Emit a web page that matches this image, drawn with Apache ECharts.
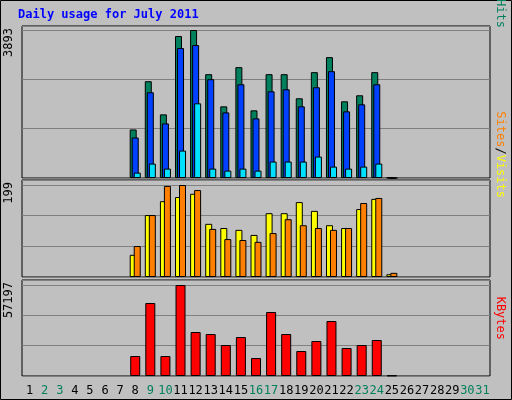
<!DOCTYPE html>
<html><head><meta charset="utf-8">
<script src="https://cdn.jsdelivr.net/npm/echarts@6/dist/echarts.min.js"></script>
<style>html,body{margin:0;padding:0;background:#c0c0c0}#c{width:512px;height:400px}</style>
</head><body><div id="c"></div>
<script>
const days = Array.from({length:31},(_,i)=>String(i+1));
const weekend = ['2','3','9','10','16','17','23','24','30','31'];
const N = null;
const hits  = [N,N,N,N,N,N,N,1277,2546,1674,3735,3893,2731,1885,2916,1780,2731,2731,2097,2784,3180,2017,2176,2784,12,N,N,N,N,N,N];
const files = [N,N,N,N,N,N,N,1066,2255,1436,3418,3497,2599,1726,2466,1568,2281,2334,1885,2387,2810,1753,1938,2466,0,N,N,N,N,N,N];
const pages = [N,N,N,N,N,N,N,141,379,247,722,1964,247,194,247,194,432,432,432,564,300,247,300,379,0,N,N,N,N,N,N];
const visits= [N,N,N,N,N,N,N,48,134,164,173,180,115,106,102,91,138,138,162,143,112,106,147,169,6,N,N,N,N,N,N];
const sites = [N,N,N,N,N,N,N,67,134,197,199,188,104,82,80,76,95,125,112,106,102,106,160,171,9,N,N,N,N,N,N];
const kbytes= [N,N,N,N,N,N,N,12570,45880,12570,57197,27654,26397,19484,24512,11313,40224,26397,15713,21998,34568,17598,19484,22626,300,N,N,N,N,N,N];
const maxLabels = ['3893','199','57197'];

const grids = [
  {left:22,right:22,top:26,height:152},
  {left:22,right:22,top:180,height:97},
  {left:22,right:22,top:280,height:96}
].map(g=>Object.assign(g,{show:true,borderColor:'#000',borderWidth:1,backgroundColor:'#c0c0c0'}));
const maxes=[3893,199,57197];
const scale=[152/148,97/92,96/91];
const xAxes=[0,1,2].map(i=>({type:'category',gridIndex:i,data:days,
  axisLine:{show:false},axisTick:{show:false},
  axisLabel:i===2?{show:true,interval:0,fontFamily:'DejaVu Sans Mono',fontSize:12,margin:9,
    color:(v)=>weekend.includes(v)?'#00805c':'#000'}:{show:false}}));
const yAxes=[0,1,2].map(i=>({type:'value',gridIndex:i,min:0,max:maxes[i]*scale[i],interval:maxes[i]/3,
  axisLabel:{show:false},axisLine:{show:false},axisTick:{show:false},
  splitLine:{show:true,lineStyle:{color:'#808080',width:1}}}));
const bs=(name,data,color,xi,w,gap)=>({type:'bar',name,data,xAxisIndex:xi,yAxisIndex:xi,barWidth:w,barGap:gap,
  itemStyle:{color,borderColor:'#000',borderWidth:1},silent:true,animation:false});
const vt=(text,x,y,color)=>({type:'text',x,y,rotation:Math.PI/2,style:{text,fill:color,font:'12px "DejaVu Sans Mono"',textAlign:'right',textVerticalAlign:'middle'}});
const chart=echarts.init(document.getElementById('c'));
chart.setOption({
  backgroundColor:'#c0c0c0',animation:false,
  grid:grids,xAxis:xAxes,yAxis:yAxes,
  series:[
    bs('Hits',hits,'#00805c',0,7,'-71%'),
    bs('Files',files,'#0040ff',0,7,'-71%'),
    bs('Pages',pages,'#00e0ff',0,7,'-71%'),
    bs('Visits',visits,'#ffff00',1,7,'-43%'),
    bs('Sites',sites,'#ff8000',1,7,'-43%'),
    bs('KBytes',kbytes,'#ff0000',2,10,'0%')
  ],
  graphic:[
    {type:'rect',shape:{x:0.5,y:0.5,width:511,height:399},style:{fill:'none',stroke:'#000'}},
    {type:'text',x:18,y:9,style:{text:'Daily usage for July 2011',fill:'#0000ff',font:'bold 12px "DejaVu Sans Mono"'}},
    vt(maxLabels[0],9,28,'#000'),
    vt(maxLabels[1],9,182,'#000'),
    vt(maxLabels[2],9,282,'#000'),
    {type:'text',x:500,y:28,rotation:-Math.PI/2,style:{rich:{h:{fill:'#00805c'},f:{fill:'#0040ff'},p:{fill:'#00e0ff'},s:{fill:'#000'}},text:'{p|Pages}{s|/}{f|Files}{s|/}{h|Hits}',font:'12px "DejaVu Sans Mono"',textAlign:'right',textVerticalAlign:'middle'}},
    {type:'text',x:500,y:198,rotation:-Math.PI/2,style:{rich:{a:{fill:'#ff8000'},b:{fill:'#ffff00'},s:{fill:'#000'}},text:'{a|Sites}{s|/}{b|Visits}',font:'12px "DejaVu Sans Mono"',textAlign:'right',textVerticalAlign:'middle'}},
    {type:'text',x:500,y:340,rotation:-Math.PI/2,style:{text:'KBytes',fill:'#ff0000',font:'12px "DejaVu Sans Mono"',textAlign:'right',textVerticalAlign:'middle'}}
  ]
});
</script></body></html>
